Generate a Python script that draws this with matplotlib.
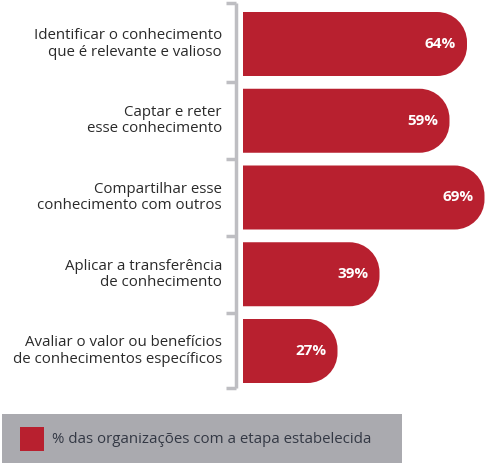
import matplotlib.pyplot as plt
from matplotlib.path import Path
from matplotlib.patches import PathPatch, Rectangle

etapas = [
    "Identificar o conhecimento\nque é relevante e valioso",
    "Captar e reter\nesse conhecimento",
    "Compartilhar esse\nconhecimento com outros",
    "Aplicar a transferência\nde conhecimento",
    "Avaliar o valor ou benefícios\nde conhecimentos específicos",
]
valores = [64, 59, 69, 39, 27]
legenda = "% das organizações com a etapa estabelecida"

vermelho = '#B8202F'
cinza_linha = '#BEBEC2'
cinza_caixa = '#AAAAAF'

plt.rcParams['font.family'] = ['Open Sans', 'DejaVu Sans']

W, H = 492, 465
fig = plt.figure(figsize=(W / 100, H / 100), dpi=100)

# eixo das barras em pixels da figura
x0_px, x1_px = 243, 492
y_top, y_bot = 3, 388
px_por_pct = 3.5
passo = 76.75
ax = fig.add_axes([x0_px / W, (H - y_bot) / H, (x1_px - x0_px) / W, (y_bot - y_top) / H])
ax.set_xlim(0, (x1_px - x0_px) / px_por_pct)
lim_sup = -(44 - y_top) / passo
lim_inf = 4 + (y_bot - 351) / passo
ax.set_ylim(lim_inf, lim_sup)
ax.axis('off')

altura = 64 / passo
raio_px = 30
rx = raio_px / px_por_pct
ry = raio_px / passo
k = 0.5523


def barra_arredondada(y, w):
    # barra com a ponta direita arredondada
    a = y - altura / 2
    b = y + altura / 2
    verts = [
        (0, a), (w - rx, a),
        (w - rx + k * rx, a), (w, a + ry - k * ry), (w, a + ry),
        (w, b - ry),
        (w, b - ry + k * ry), (w - rx + k * rx, b), (w - rx, b),
        (0, b), (0, a),
    ]
    codes = [Path.MOVETO, Path.LINETO,
             Path.CURVE4, Path.CURVE4, Path.CURVE4,
             Path.LINETO,
             Path.CURVE4, Path.CURVE4, Path.CURVE4,
             Path.LINETO, Path.CLOSEPOLY]
    return PathPatch(Path(verts, codes), facecolor=vermelho, edgecolor='none')


for i, (rot, v) in enumerate(zip(etapas, valores)):
    ax.add_patch(barra_arredondada(i, v))
    ax.text(v - 11 / px_por_pct, i, f"{v}%", color='white', fontsize=11,
            fontweight='bold', ha='right', va='center')
    ax.text((222 - x0_px) / px_por_pct, i, rot, color='#2a2a2a', fontsize=10.8,
            ha='right', va='center', clip_on=False, linespacing=1.1)

# colchete cinza à esquerda
xl = (236 - x0_px) / px_por_pct
xt = (226 - x0_px) / px_por_pct
ax.plot([xl, xl], [lim_sup, lim_inf], color=cinza_linha, lw=2.5, clip_on=False,
        solid_capstyle='butt')
marcas = [lim_sup] + [i + 0.5 for i in range(len(valores) - 1)] + [lim_inf]
for m in marcas:
    ax.plot([xt, xl], [m, m], color=cinza_linha, lw=2.5, clip_on=False,
            solid_capstyle='butt')

# legenda na caixa cinza
fig.add_artist(Rectangle((2 / W, (H - 463) / H), 400 / W, 49 / H,
                         transform=fig.transFigure, facecolor=cinza_caixa,
                         edgecolor='none'))
fig.add_artist(Rectangle((20 / W, (H - 451) / H), 24 / W, 24 / H,
                         transform=fig.transFigure, facecolor=vermelho,
                         edgecolor='none'))
fig.text(52 / W, (H - 439) / H, legenda, color='#333844', fontsize=10.8,
         ha='left', va='center')

fig.savefig('out.png', dpi=100)
